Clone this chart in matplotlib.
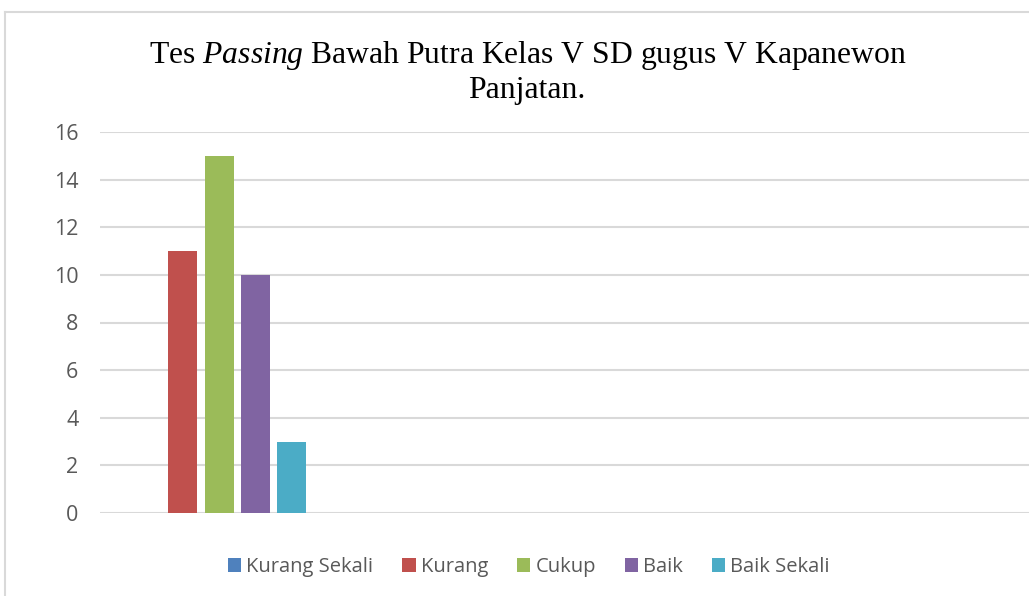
import matplotlib.pyplot as plt
from matplotlib.lines import Line2D

plt.rcParams['mathtext.fontset'] = 'custom'
plt.rcParams['mathtext.rm'] = 'Liberation Serif'
plt.rcParams['mathtext.it'] = 'Liberation Serif:italic'

series = ['Kurang Sekali', 'Kurang', 'Cukup', 'Baik', 'Baik Sekali']
values = [0, 11, 15, 10, 3]
colors = ['#4F81BD', '#C0504D', '#9BBB59', '#8064A2', '#4BACC6']
yticks = [0, 2, 4, 6, 8, 10, 12, 14, 16]

fig = plt.figure(figsize=(10.29, 5.96), dpi=100)
ax = fig.add_axes([100 / 1029, 1 - 513 / 596, 929 / 1029, (513 - 132) / 596])

# one category group, the rest of the axis stays empty like in the original
group_x = 0
step = 0.1525
width = 0.122
for i, (name, v, c) in enumerate(zip(series, values, colors)):
    ax.bar(group_x + (i - 2) * step, v, width=width, color=c, label=name)

ax.set_xlim(-0.5, 3.4)
ax.set_ylim(0, 16)
ax.set_yticks(yticks)
ax.set_xticks([])
ax.yaxis.grid(True, color='#D9D9D9', linewidth=1.5)
ax.set_axisbelow(True)
for s in ax.spines.values():
    s.set_visible(False)
ax.tick_params(axis='y', length=0, pad=15.5, labelsize=15.5, labelcolor='#595959')
for lab in ax.get_yticklabels():
    lab.set_fontfamily('Open Sans')

# outer chart border (top and left visible)
fig.add_artist(Line2D([5 / 1029, 1], [1 - 12 / 596, 1 - 12 / 596], color='#D9D9D9', linewidth=1.5))
fig.add_artist(Line2D([5 / 1029, 5 / 1029], [0, 1 - 12 / 596], color='#D9D9D9', linewidth=1.5))

fig.text(528 / 1029, 1 - 55 / 596, 'Tes $\\it{Passing}$ Bawah Putra Kelas V SD gugus V Kapanewon',
         ha='center', va='center', fontsize=22.8, family='Liberation Serif')
fig.text(527 / 1029, 1 - 90 / 596, 'Panjatan.', ha='center', va='center', fontsize=22.8,
         family='Liberation Serif')

leg = fig.legend(loc='center', bbox_to_anchor=(529 / 1029, 1 - 567 / 596), ncol=5, frameon=False,
                 prop={'family': 'Open Sans', 'size': 14.5}, handlelength=0.65, handleheight=0.65,
                 handletextpad=0.25, columnspacing=1.45)
for t in leg.get_texts():
    t.set_color('#595959')

fig.savefig('out.png', dpi=100)
